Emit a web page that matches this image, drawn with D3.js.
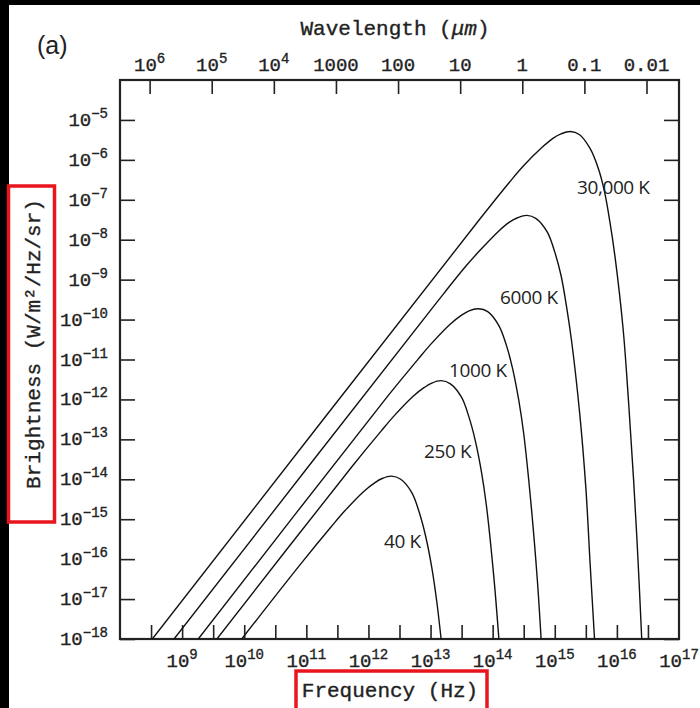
<!DOCTYPE html>
<html>
<head>
<meta charset="utf-8">
<script src="https://cdn.jsdelivr.net/npm/d3@7"></script>
<style>
  body { margin: 0; background: #000; }
  .axislabel { font-family: "Liberation Mono", monospace; fill: #222; stroke: #222; stroke-width: 0.35; }
  .curvelabel { font-family: "Open Sans", sans-serif; fill: #222; }
</style>
</head>
<body>
<svg id="chart" width="700" height="708"></svg>
<script>
// values: log10(frequency / Hz) and log10(brightness / W m^-2 Hz^-1 sr^-1)
var temps = ["30,000 K", "6000 K", "1000 K", "250 K", "40 K"];

var logNu30000 = [8.52, 13.80, 14.27, 14.49, 14.80, 14.97, 15.10, 15.25, 15.40, 15.57, 15.70, 15.80, 15.89, 15.97, 16.10, 16.19, 16.27, 16.34, 16.40];
var logB30000  = [-18, -7.47, -6.56, -6.16, -5.68, -5.46, -5.35, -5.29, -5.37, -5.72, -6.21, -6.79, -7.58, -8.43, -10.23, -12.11, -14.04, -16.02, -18];

var logNu6000 = [8.87, 13.10, 13.57, 13.80, 14.10, 14.27, 14.40, 14.55, 14.70, 14.88, 15.00, 15.10, 15.19, 15.27, 15.40, 15.50, 15.57, 15.64];
var logB6000  = [-18, -9.57, -8.66, -8.26, -7.78, -7.56, -7.45, -7.39, -7.47, -7.81, -8.31, -8.89, -9.68, -10.53, -12.33, -14.21, -16.14, -18];

var logNu1000 = [9.26, 12.32, 12.80, 13.02, 13.32, 13.50, 13.62, 13.77, 13.92, 14.10, 14.22, 14.32, 14.42, 14.50, 14.62, 14.72, 14.78];
var logB1000  = [-18, -11.90, -10.99, -10.59, -10.11, -9.89, -9.78, -9.73, -9.80, -10.15, -10.64, -11.22, -12.02, -12.86, -14.66, -16.54, -18];

var logNu250 = [9.56, 11.72, 12.20, 12.42, 12.72, 12.90, 13.02, 13.17, 13.32, 13.50, 13.62, 13.72, 13.82, 13.90, 14.02, 14.10];
var logB250  = [-18, -13.71, -12.80, -12.40, -11.92, -11.70, -11.59, -11.53, -11.61, -11.95, -12.45, -13.03, -13.82, -14.67, -16.47, -18];

var logNu40 = [9.96, 10.92, 11.40, 11.62, 11.92, 12.10, 12.22, 12.37, 12.52, 12.70, 12.82, 12.92, 13.02, 13.10, 13.17];
var logB40  = [-18, -16.10, -15.19, -14.79, -14.31, -14.09, -13.98, -13.92, -14.00, -14.34, -14.84, -15.42, -16.21, -17.06, -18];

// axis ticks
var freqTickExp = [8.5, 9, 9.5, 10, 10.5, 11, 11.5, 12, 12.5, 13, 13.5, 14, 14.5, 15, 15.5, 16, 16.5];
var freqLabelExp = [9, 10, 11, 12, 13, 14, 15, 16, 17];
var wavelengthUm = [1e6, 1e5, 1e4, 1000, 100, 10, 1, 0.1, 0.01];
var wavelengthLabels = [["10", "6"], ["10", "5"], ["10", "4"], ["1000", ""], ["100", ""], ["10", ""], ["1", ""], ["0.1", ""], ["0.01", ""]];
var brightExp = [-5, -6, -7, -8, -9, -10, -11, -12, -13, -14, -15, -16, -17, -18];

var series = [
  { name: temps[0], nu: logNu30000, b: logB30000 },
  { name: temps[1], nu: logNu6000, b: logB6000 },
  { name: temps[2], nu: logNu1000, b: logB1000 },
  { name: temps[3], nu: logNu250, b: logB250 },
  { name: temps[4], nu: logNu40, b: logB40 }
];

var svg = d3.select("#chart");

// black edge of the scanned picture, then the white page
svg.append("rect").attr("width", 700).attr("height", 708).attr("fill", "#000");
svg.append("rect").attr("x", 9).attr("y", 5).attr("width", 691).attr("height", 703).attr("fill", "#fff");

var x = d3.scaleLog().domain([1e8, 1e17]).range([120, 679]);
var y = d3.scaleLog().domain([1e-18, 1e-4]).range([639, 80]);

svg.append("clipPath").attr("id", "plotclip")
  .append("rect").attr("x", 120).attr("y", 80).attr("width", 559).attr("height", 559);

// ticks (all pointing into the plot)
function styleAxis(g) {
  g.select(".domain").remove();
  g.selectAll(".tick line").attr("stroke", "#222").attr("stroke-width", 1.6);
}
svg.append("g").attr("transform", "translate(0,639)")
  .call(d3.axisBottom(x).tickValues(freqTickExp.map(function(e){ return Math.pow(10, e); }))
    .tickSizeInner(-14).tickSizeOuter(0).tickFormat(""))
  .call(styleAxis);
svg.append("g").attr("transform", "translate(0,80)")
  .call(d3.axisTop(x).tickValues(wavelengthUm.map(function(l){ return 2.998e14 / l; }))
    .tickSizeInner(-14).tickSizeOuter(0).tickFormat(""))
  .call(styleAxis);
svg.append("g").attr("transform", "translate(120,0)")
  .call(d3.axisLeft(y).tickValues(brightExp.map(function(e){ return Math.pow(10, e); }))
    .tickSizeInner(-15).tickSizeOuter(0).tickFormat(""))
  .call(styleAxis);
svg.append("g").attr("transform", "translate(679,0)")
  .call(d3.axisRight(y).tickValues(brightExp.map(function(e){ return Math.pow(10, e); }))
    .tickSizeInner(-15).tickSizeOuter(0).tickFormat(""))
  .call(styleAxis);

// frame
svg.append("rect").attr("x", 120).attr("y", 80).attr("width", 559).attr("height", 559)
  .attr("fill", "none").attr("stroke", "#222").attr("stroke-width", 2.2);

// tick labels
function powerLabel(sel, base, sup) {
  sel.append("tspan").text(base);
  if (sup) sel.append("tspan").attr("dy", -8).attr("font-size", 14).text(sup);
}

freqLabelExp.forEach(function(e) {
  var t = svg.append("text").attr("class", "axislabel")
    .attr("x", x(Math.pow(10, e))).attr("y", 667)
    .attr("text-anchor", "middle").attr("font-size", 19);
  powerLabel(t, "10", String(e));
});

wavelengthUm.forEach(function(l, i) {
  var t = svg.append("text").attr("class", "axislabel")
    .attr("x", x(2.998e14 / l)).attr("y", 71)
    .attr("text-anchor", "middle").attr("font-size", 19);
  powerLabel(t, wavelengthLabels[i][0], wavelengthLabels[i][1]);
});

brightExp.forEach(function(e) {
  var t = svg.append("text").attr("class", "axislabel")
    .attr("x", 108).attr("y", y(Math.pow(10, e)) + 6)
    .attr("text-anchor", "end").attr("font-size", 19);
  powerLabel(t, "10", "\u2212" + String(-e));
});

// axis titles
var wl = svg.append("text").attr("class", "axislabel")
  .attr("x", 395).attr("y", 35).attr("text-anchor", "middle").attr("font-size", 21);
wl.append("tspan").text("Wavelength (");
wl.append("tspan").attr("font-style", "italic").text("\u03bcm");
wl.append("tspan").text(")");

svg.append("text").attr("class", "axislabel")
  .attr("x", 390).attr("y", 697).attr("text-anchor", "middle").attr("font-size", 21)
  .text("Frequency (Hz)");

svg.append("text").attr("class", "axislabel")
  .attr("transform", "translate(40,344) rotate(-90)")
  .attr("text-anchor", "middle").attr("font-size", 21)
  .text("Brightness (W/m\u00b2/Hz/sr)");

svg.append("text").attr("x", 37).attr("y", 54)
  .attr("font-family", "Liberation Sans, Arial, sans-serif").attr("font-size", 25).attr("fill", "#222")
  .text("(a)");

// curves
var line = d3.line()
  .x(function(d) { return x(Math.pow(10, d[0])); })
  .y(function(d) { return y(Math.pow(10, d[1])); })
  .curve(d3.curveCatmullRom.alpha(0.5));

svg.append("g").attr("clip-path", "url(#plotclip)")
  .selectAll("path")
  .data(series)
  .enter()
  .append("path")
  .attr("d", function(s) { return line(d3.zip(s.nu, s.b)); })
  .attr("fill", "none")
  .attr("stroke", "#111")
  .attr("stroke-width", 1.4);

// curve labels
var labelPos = [[577, 194], [500, 304], [449, 377], [424, 458], [384, 548]];
svg.selectAll(".curvelabel")
  .data(series)
  .enter()
  .append("text")
  .attr("class", "curvelabel")
  .attr("x", function(d, i) { return labelPos[i][0]; })
  .attr("y", function(d, i) { return labelPos[i][1]; })
  .attr("font-size", 19)
  .attr("letter-spacing", -0.4)
  .text(function(d) { return d.name; });

// red highlight boxes
svg.append("rect").attr("x", 8.5).attr("y", 186).attr("width", 46).attr("height", 336)
  .attr("fill", "none").attr("stroke", "#e8161c").attr("stroke-width", 3.5);
svg.append("rect").attr("x", 296).attr("y", 671).attr("width", 191).attr("height", 45)
  .attr("fill", "none").attr("stroke", "#e8161c").attr("stroke-width", 3.5);
</script>
</body>
</html>
